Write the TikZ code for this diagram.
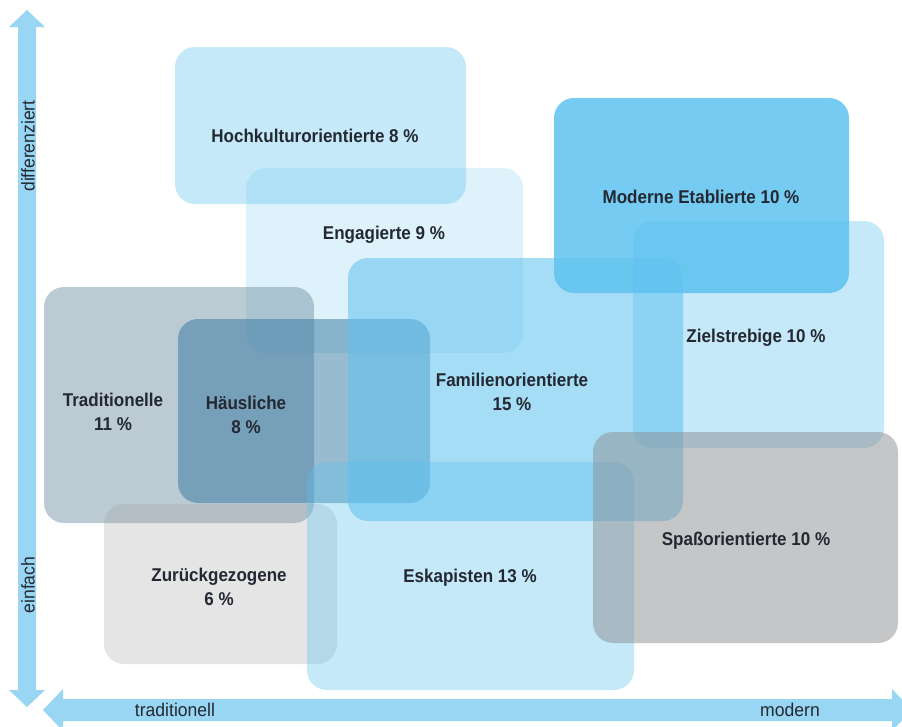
\documentclass[tikz,border=0pt]{standalone}
\usepackage{fontspec}
\setmainfont{Liberation Sans}[FakeStretch=0.92]
\newfontfamily\axfont{Liberation Sans}[FakeStretch=0.95]
\definecolor{bl}{RGB}{94,194,239}
\definecolor{trc}{RGB}{106,139,159}
\definecolor{hsc}{RGB}{50,120,160}
\definecolor{spc}{RGB}{140,142,146}
\definecolor{zuc}{RGB}{160,160,160}
\definecolor{axc}{RGB}{152,214,243}
\definecolor{txc}{RGB}{35,40,50}
\tikzset{
  box/.style={rectangle, rounded corners=20pt, inner sep=0pt, draw=none},
  lbl/.style={text=txc, font=\bfseries\fontsize{18.5}{24.5}\selectfont, inner sep=0pt, align=center},
  axl/.style={text=txc, font=\axfont\fontsize{18.5}{20}\selectfont, inner sep=0pt},
}
\begin{document}
\begin{tikzpicture}[x=1pt,y=-1pt]
\useasboundingbox (0,0) rectangle (902,726);
\clip (0,0) rectangle (902,726);
\fill[white] (0,0) rectangle (902,726);
% axes
\fill[axc] (18,27) -- (9,27) -- (27,10) -- (45,27) -- (36,27) -- (36,690) -- (45,690) -- (27,707) -- (9,690) -- (18,690) -- cycle;
\fill[axc] (63,699) -- (63,689) -- (43,710) -- (63,731) -- (63,721) -- (892,721) -- (892,731) -- (912,710) -- (892,689) -- (892,699) -- cycle;
\node[axl, rotate=90] (ydiff) at (28,146) {differenziert};
\node[axl, rotate=90] (yeinf) at (28,585) {einfach};
\node[axl] (xtrad) at (175,710) {traditionell};
\node[axl] (xmod) at (790,710) {modern};
% boxes
\node[box, fill=bl, fill opacity=.2, minimum width=277pt, minimum height=185pt] (eng) at (384.5,260.5) {};
\node[box, fill=bl, fill opacity=.35, minimum width=291pt, minimum height=157pt] (hoch) at (320.5,125.5) {};
\node[box, fill=bl, fill opacity=.85, minimum width=295pt, minimum height=195pt] (mod) at (701.5,195.5) {};
\node[box, fill=bl, fill opacity=.35, minimum width=251pt, minimum height=227pt] (ziel) at (758.5,334.5) {};
\node[box, fill=trc, fill opacity=.45, minimum width=270pt, minimum height=236pt] (trad) at (179,405) {};
\node[box, fill=hsc, fill opacity=.5, minimum width=252pt, minimum height=184pt] (haus) at (304,411) {};
\node[box, fill=bl, fill opacity=.55, minimum width=335pt, minimum height=263pt] (fam) at (515.5,389.5) {};
\node[box, fill=zuc, fill opacity=.27, minimum width=233pt, minimum height=160pt] (zur) at (220.5,584) {};
\node[box, fill=bl, fill opacity=.35, minimum width=327pt, minimum height=228pt] (esk) at (470.5,576) {};
\node[box, fill=spc, fill opacity=.5, minimum width=305pt, minimum height=211pt] (spass) at (745.5,537.5) {};
% labels
\node[lbl, anchor=base] (hochl) at (315,142) {Hochkulturorientierte 8 \%};
\node[lbl, anchor=base] (engl) at (384,239) {Engagierte 9 \%};
\node[lbl, anchor=base] (modl) at (701,203) {Moderne Etablierte 10 \%};
\node[lbl, anchor=base] (ziell) at (756,342) {Zielstrebige 10 \%};
\node[lbl] (faml) at (512,392) {Familienorientierte\\15 \%};
\node[lbl] (tradl) at (113,412) {Traditionelle\\11 \%};
\node[lbl] (hausl) at (246,415) {Häusliche\\8 \%};
\node[lbl] (zurl) at (219,587) {Zurückgezogene\\6 \%};
\node[lbl, anchor=base] (eskl) at (470,582) {Eskapisten 13 \%};
\node[lbl, anchor=base] (spassl) at (746,545) {Spaßorientierte 10 \%};
\end{tikzpicture}
\end{document}
